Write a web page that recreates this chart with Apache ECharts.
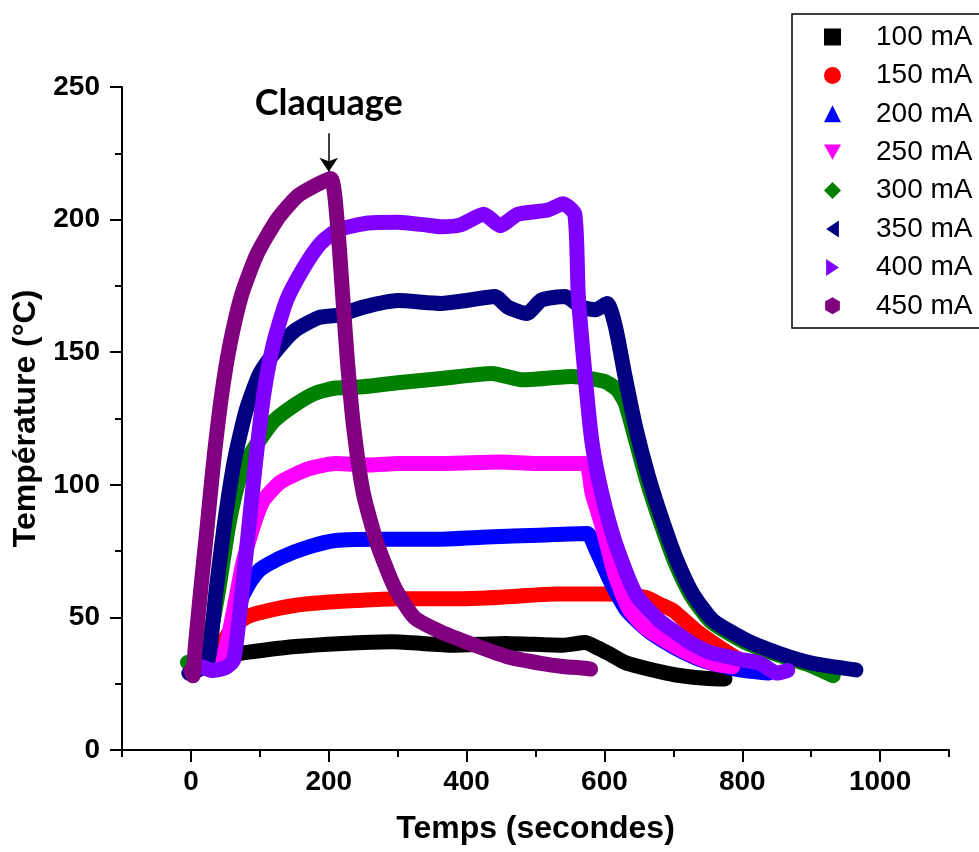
<!DOCTYPE html>
<html><head><meta charset="utf-8">
<script src="https://cdn.jsdelivr.net/npm/echarts@6/dist/echarts.min.js"></script>
<style>html,body{margin:0;padding:0;background:#fff}#c{width:979px;height:852px}</style>
</head><body><div id="c"></div>
<script>
// ---- data ----
const seriesNames = ['100 mA','150 mA','200 mA','250 mA','300 mA','350 mA','400 mA','450 mA'];
const seriesColors = ['#000000','#FF0000','#0000FF','#FF00FF','#008000','#000080','#8000FF','#800080'];
const legendIcons = ['rect','circle','triangle','path://M0,0L10,0L5,9Z','diamond','path://M9,0L9,12L0,6Z','path://M0,0L9,6L0,12Z','path://M5,0L9.33,2.5L9.33,7.5L5,10L0.67,7.5L0.67,2.5Z'];
const xTickLabels = [0,200,400,600,800,1000];
const xMinorTicks = [-100,100,300,500,700,900,1100];
const yTickStep = 50;
const annotationText = 'Claquage';
const annotationPoint = [200, 218];

const s100 = [[0,30],[10,31],[20,33],[36,35.2],[75,36.6],[147,38.9],[220,40.2],[292,40.8],[380,39.5],[456,40.2],[540,39.5],[572,40.5],[590,38.5],[606,36.4],[630,33],[654,31.2],[690,29],[717,27.8],[750,27],[775,26.8]];
const s150 = [[0,30],[30,33],[45,40],[60,46],[80,50],[100,51.8],[150,54.5],[200,55.8],[250,56.5],[300,57],[380,57],[450,57.6],[530,58.8],[600,58.8],[640,58.3],[660,57.5],[680,55],[700,52.5],[733,45],[760,40],[790,35],[820,31],[840,29.5]];
const s200 = [[0,30],[40,33],[55,42],[70,55],[85,63],[100,68],[130,72.5],[170,76.5],[210,79],[270,79.5],[360,79.5],[430,80.3],[505,81],[575,81.6],[588,75.4],[608,64],[632,52.8],[662,45.2],[700,38.9],[740,34],[790,30.5],[838,29]];
const s250 = [[0,31],[45,35],[60,50],[75,70],[90,84],[105,94],[130,101],[170,106],[210,108],[260,107.5],[300,108],[360,108],[450,108.6],[500,108],[572,108],[582,97],[597,84],[616,65.5],[636,53],[660,46],[690,41],[722,36.4],[760,32.5],[786,31.4]];
const s300 = [[-5,33],[10,33],[25,40],[40,60],[55,85],[70,102],[85,111],[100,117],[120,124],[150,130],[180,134.5],[210,136.5],[250,137],[300,138.5],[360,140],[437,142],[480,139.6],[553,140.8],[600,139],[618,136],[630,131],[642,120],[661,102],[681,86],[702,71],[725,58.5],[754,48.5],[801,41],[850,36],[898,32],[932,28]];
const s350 = [[-3,29],[10,30],[25,34],[36,59],[48,84],[63,109],[80,128],[100,142],[125,151],[150,158],[185,163],[215,164],[250,167],[300,169.5],[363,168.4],[400,169.5],[441,171],[460,167],[487,164.6],[509,169.7],[543,171],[567,167],[587,166],[604,168.4],[616,159.6],[630,140.8],[645,122],[664,103],[684,86.7],[705,71.6],[728,59],[757,49],[805,41.5],[854,36.4],[902,32.7],[965,30.2]];
const s400 = [[0,30],[15,31.5],[30,30],[50,31],[62,34],[74,59],[84,84],[94,109],[106,134.6],[120,153.4],[139,169.7],[164,182],[188,191],[213,196],[257,198.7],[300,199],[340,198],[362,197.3],[391,198],[425,202],[449,197.7],[474,202],[518,203.6],[540,206],[557,202],[562,172],[572,141],[582,116],[596,97],[616,78],[645,59],[679,49],[700,45],[728,40],[757,36.5],[800,34],[826,32.7],[850,29],[866,30]];
const s450 = [[0,30],[3,28],[6,38],[13.7,59],[23.5,84],[33,109],[45,134.6],[57,153.4],[74,172],[96,187],[125,200],[154,208.7],[178,212.5],[203,215.5],[213,197],[220,172],[227,147],[236,122],[250,97],[270,78],[295,61.6],[324,50],[363,44.5],[411,39.6],[459,35.2],[508,32.7],[540,31.5],[572,30.8],[580,30.5]];
const seriesData = [s100,s150,s200,s250,s300,s350,s400,s450];

// ---- chart ----
const FONT = "'Liberation Sans', Arial, sans-serif";
const chart = echarts.init(document.getElementById('c'), null, {renderer:'canvas'});

const series = seriesData.map((d,i)=>({
  name: seriesNames[i], type:'line', data:d, xAxisIndex:0, yAxisIndex:0,
  showSymbol:false, symbol:'none', smooth:0.2, clip:false,
  color: seriesColors[i],
  lineStyle:{width:15, color:seriesColors[i], cap:'round', join:'round'},
  emphasis:{disabled:true}, z: 2 + i
}));

series[7].markLine = {
  silent:true, animation:false, symbol:['none','arrow'], symbolSize:[14,14],
  lineStyle:{color:'#000', width:1.5, type:'solid'}, label:{show:false},
  data:[[{coord:[annotationPoint[0], 232.6]},{coord:annotationPoint}]]
};
series[7].markPoint = {
  silent:true, animation:false, symbol:'circle', symbolSize:0,
  itemStyle:{color:'transparent'},
  label:{show:true, position:'inside', formatter:annotationText, color:'#000',
    fontFamily:"Lato, 'Open Sans', sans-serif", fontWeight:'bold', fontSize:36},
  data:[{coord:[200, 244]}]
};

chart.setOption({
  animation:false,
  backgroundColor:'#fff',
  grid:{left:122, right:30, top:87, bottom:102, containLabel:false},
  graphic:[{
    type:'rect', z:0, silent:true,
    shape:{x:792, y:14, width:260, height:314},
    style:{fill:'#fff', stroke:'#000', lineWidth:1.5}
  }],
  legend:{
    orient:'vertical', left:792, top:14, z:5,
    padding:[8,10,7,32], itemWidth:17, itemHeight:17, itemGap:8.4,
    borderWidth:0, backgroundColor:'transparent',
    selectedMode:false,
    textStyle:{fontFamily:FONT, fontSize:28, color:'#000', lineHeight:30, padding:[0,0,0,30]},
    data: seriesNames.map((n,i)=>({name:n, icon:legendIcons[i], itemStyle:{color:seriesColors[i]}}))
  },
  xAxis:[{
    type:'value', min:-100, max:1100, interval:100, position:'bottom',
    name:'Temps (secondes)', nameLocation:'middle', nameGap:63,
    nameTextStyle:{fontFamily:FONT, fontWeight:'bold', fontSize:32, color:'#000'},
    axisLine:{show:true, onZero:false, lineStyle:{color:'#000', width:2}},
    axisTick:{show:true, length:12, lineStyle:{color:'#000', width:2}, customValues:xTickLabels},
    axisLabel:{show:true, margin:18, customValues:xTickLabels, formatter:(v)=>String(v), fontFamily:FONT, fontWeight:'bold', fontSize:28, color:'#000'},
    splitLine:{show:false}
  },{
    type:'value', min:-100, max:1100, interval:100, position:'bottom', gridIndex:0,
    axisLine:{show:false, onZero:false},
    axisTick:{show:true, length:7, lineStyle:{color:'#000', width:2}, customValues:xMinorTicks},
    axisLabel:{show:false}, splitLine:{show:false}
  }],
  yAxis:{
    type:'value', min:0, max:250, interval:yTickStep,
    name:'Température (°C)', nameLocation:'middle', nameGap:70,
    nameTextStyle:{fontFamily:FONT, fontWeight:'bold', fontSize:32, color:'#000'},
    axisLine:{show:true, onZero:false, lineStyle:{color:'#000', width:2}},
    axisTick:{show:true, length:12, lineStyle:{color:'#000', width:2}},
    minorTick:{show:true, splitNumber:2, length:7, lineStyle:{color:'#000', width:2}},
    axisLabel:{margin:22, formatter:(v)=>String(v), fontFamily:FONT, fontWeight:'bold', fontSize:28, color:'#000'},
    splitLine:{show:false}
  },
  series: series
});
</script></body></html>
